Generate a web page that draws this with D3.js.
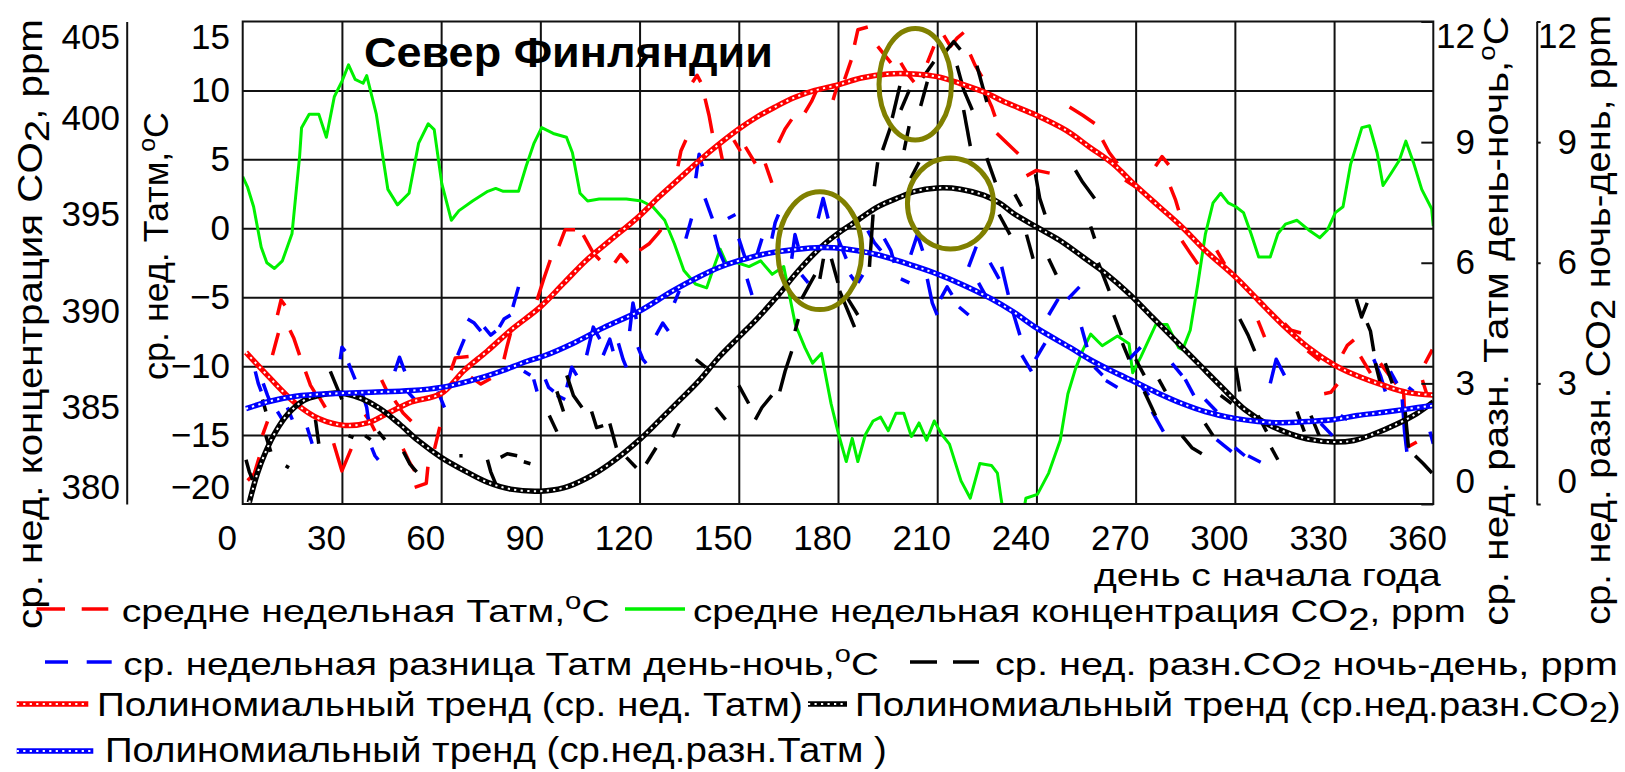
<!DOCTYPE html>
<html><head><meta charset="utf-8">
<script src="https://cdn.jsdelivr.net/npm/d3@7"></script>
<style>
html,body{margin:0;padding:0;background:#fff;}
svg{display:block;}
</style></head><body>
<svg id="chart" width="1625" height="772"></svg>
<script>
// ---- axis ticks ----
const DAY_TICKS  = [0,30,60,90,120,150,180,210,240,270,300,330,360];
const TEMP_TICKS = [-20,-15,-10,-5,0,5,10,15];
const CO2_TICKS  = [380,385,390,395,400,405];
const DIFF_TICKS = [0,3,6,9,12];

// ---- weekly mean CO2, ppm (day, value) ----
const co2Weekly = [[0,396.96],[1.5,396.4],[3.3,395.4],[5.6,393.3],[7.3,392.5],[9.6,392.2],[12,392.6],[14.9,394.0],[17.2,398.0],[17.8,399.5],[20.1,400.2],[23,400.2],[25.3,399.0],[27.7,401.1],[30,401.9],[32,402.75],[34,402.0],[36.4,401.8],[37.5,402.2],[40.4,400.2],[43.9,396.3],[46.8,395.5],[50.3,396.1],[53.2,398.7],[56.1,399.7],[57.9,399.4],[60.2,396.6],[63.1,394.7],[65.4,395.2],[69.5,395.7],[74.1,396.2],[76.5,396.35],[78.8,396.2],[83.4,396.2],[85.7,397.5],[88.1,398.7],[90.4,399.5],[93.9,399.2],[97.9,399.0],[99.7,398.2],[102,396.1],[104.3,395.7],[107.8,395.8],[116,395.8],[120.6,395.7],[124,395.4],[127.6,394.7],[130.5,393.5],[133.4,392.1],[136.9,391.4],[140.3,391.2],[142.1,392.1],[144.4,393.2],[146.2,392.5],[149.6,392.5],[153.1,392.3],[156.6,392.6],[160.1,391.9],[163.6,392.3],[167.1,389.3],[170,388.1],[172.3,387.3],[175,387.8],[177.9,385.2],[180.2,383.6],[182.5,382.2],[184.3,383.4],[186,382.2],[188.3,383.6],[190.6,384.3],[192.9,384.5],[195.2,383.8],[197.5,384.7],[199.9,384.7],[202.2,383.5],[204.5,384.2],[206.8,383.3],[209.1,384.3],[211.4,383.6],[213.7,383.1],[217.2,381.2],[220,380.3],[222.9,382.1],[226.4,382.0],[228.2,381.6],[229.3,380.3],[230.5,379.0],[235.5,379.0],[236.8,380.3],[240.3,380.5],[243.7,381.6],[247.2,383.3],[249.5,385.7],[251.8,387.0],[254.1,388.0],[256.4,388.8],[259.9,388.2],[264.5,388.7],[268,388.3],[269.1,386.8],[271.5,387.6],[276.1,389.3],[279.5,389.3],[283,388.1],[284.2,388.0],[286.5,389.0],[288.8,391.4],[291.1,394.0],[293.4,395.6],[295.7,396.1],[298,395.6],[300.3,395.4],[302.6,395.1],[304.9,394.0],[307.2,392.8],[310.7,392.8],[313,394.0],[315.3,394.5],[318.8,394.7],[322.3,394.2],[325.7,393.8],[328,394.2],[330.4,395.1],[332.7,395.4],[335,397.6],[338.4,399.5],[340.7,399.6],[343,398.2],[344.8,396.5],[347.1,397.1],[349.7,397.8],[351.7,398.8],[354,397.7],[356.5,396.3],[359.5,395.3],[360,394.4]];

// ---- weekly mean air temperature, °C: visible runs of the dashed trace ----
const tempWeekly = [
 [[1.5,-18.3],[3.5,-17.8],[5,-16.6]],[[6,-15],[7.5,-14]],[[9,-9.2],[10,-8.3],[10.8,-7.6]],
 [[10.5,-6.3],[11.6,-5.2],[12.8,-5.6]],[[14.3,-7.4],[15.5,-8],[17.2,-9.2]],[[19,-10.4],[20.5,-11.4],[21.8,-11.9]],
 [[23,-12.2],[25,-13]],[[27.5,-15.6],[30,-17.6],[32.8,-16]],[[37,-13.5],[38.5,-14],[40,-14.7]],
 [[42,-11],[44,-12]],[[46,-12.5],[48.5,-13.4],[51,-14]],[[48.5,-16],[50.5,-17],[52,-17.6]],
 [[52,-18.8],[55.5,-18.5],[56,-17.3]],[[58,-16],[59.6,-14.4]],[[63,-10.3],[64.3,-9.4],[68.3,-9.3]],
 [[69,-10.8],[72,-11.3],[75,-10.9]],[[79,-9.5],[80,-8.5],[81,-7.6]],[[89,-5.2],[91,-3.7],[93,-2.3]],
 [[95.6,-1.3],[97.5,-0.1],[100.5,-0.1]],[[103,-0.5],[106,-1.8],[108,-2.3]],[[112.5,-2.5],[114.3,-1.9],[116.5,-2.5]],
 [[120,-1.6],[123,-1.1],[125.5,-0.4],[126.5,-0.1]],[[131.6,4.5],[132.5,5.6],[134,6.4]],
 [[136,10.6],[137.4,11.1],[138.5,10.6]],[[139.8,9.4],[141,8.2],[142,6.9]],[[144,6.2],[145,5.0]],
 [[148.5,6.4],[150.5,5.6]],[[152,5.9],[153.5,5.3],[155,4.7]],[[158,4.7],[159,4],[160,3.3]],
 [[162,6.2],[164,7.2],[166,7.9]],[[170,8.4],[172,9.2],[173.5,10]],[[178.5,9.3],[180,10.5]],
 [[182,10.8],[184,12.2]],[[185,13.3],[186,14.4],[189,14.6]],[[192,13.2],[194,12.6],[196,12]],
 [[199,12],[201,11.2],[203,10.6]],[[207,12],[208,12.6],[209,13.2]],[[212,14],[214,13.2],[216,13.8],[218,14.2]],
 [[220,12.6],[221.5,11.8],[223.5,11]],[[225,9.6],[226.5,8.8],[227.5,8.1]],[[228,6.9],[231,6.2],[234.5,5.4]],
 [[237,3.8],[240,4.2],[244,4.0]],[[250,8.8],[254,8.2],[257.6,7.6]],[[260,6.4],[262,5.5],[264.5,4.7]],
 [[266.8,3.5],[270,3.0]],[[276,4.5],[278,5.2],[280,4.6]],[[280.5,3],[282,2.1],[283,1.3]],
 [[284,-0.9],[286.5,-1.8],[288.8,-2.6]],[[294.5,-1.6],[296.9,-2.6]],[[307,-6.7],[309,-7.9]],
 [[315,-6.9],[317,-7.4],[320,-7.6]],[[322,-8.9],[325.7,-9.6]],[[327,-12],[329,-11.9],[331,-11.3]],
 [[332.6,-9.1],[334,-8.5],[336,-8.1]],[[338,-9.3],[341,-10.5]],[[344,-9.8],[346.5,-10.6],[348.8,-11.3]],
 [[351,-11.7],[351.5,-14.5],[352,-15.9],[355,-15.5]],[[356.7,-11],[358,-12]],[[357.5,-9.8],[359.7,-8.8]]
];

// ---- weekly mean day-night air temperature difference, °C ----
const tempDiffWeekly = [
 [[3.8,3.3],[4.7,3.0],[5.6,2.8]],[[6.2,3.0],[7.5,2.7],[8.5,2.5]],[[10.5,2.3],[12,2.1]],[[13.5,2.4],[15,2.1]],
 [[19.5,1.9],[21,1.5]],[[29.5,3.6],[30,3.9],[31,3.8]],[[32,3.5],[33,3.3],[34,3.1]],[[36,2.8],[37.5,2.4],[38,2.1]],
 [[39,1.4],[40,1.2],[41,1.1]],[[46,3.3],[47.4,3.65],[49,3.3]],[[49.8,2.8],[52,2.6]],[[59,2.8],[60,2.6],[61,2.4]],
 [[65,3.7],[66,3.9],[67,4.1]],[[68,4.6],[70,4.5],[72,4.3]],[[73,4.4],[75,4.2],[76.5,4.3]],[[77.6,4.4],[79,4.6],[81,4.7]],
 [[81.7,4.9],[83.4,5.4]],[[85,3.3],[87,3.2]],[[88,3.1],[89,2.8]],[[91.5,3.1],[92.5,2.9],[94,2.8]],[[95,2.7],[97.5,2.6]],
 [[98,2.9],[99.5,3.4],[101,3.2]],[[104,3.7],[106,4.4],[108,4.1]],[[109,3.7],[111,4.1],[112,3.8]],
 [[113.6,4.0],[115,3.6],[116,3.4]],[[117,4.3],[118,5.0],[119,4.6]],[[119.5,3.9],[121,3.6],[122,3.5]],
 [[125,4.2],[127,4.5],[128.7,4.3]],[[130.5,5.0],[132,5.3]],[[134,6.6],[135.7,7.1]],[[137,8.1],[138,8.7],[139,8.4]],
 [[139.8,7.6],[142,7.1]],[[142.7,6.7],[144,6.3],[145.6,6.0]],[[146.7,7.1],[149,7.2]],[[150,6.6],[152,6.1]],
 [[152.5,5.6],[154,5.2]],[[155.5,6.2],[157,6.6]],[[160,6.6],[161,7.0],[162,7.2]],[[166,6.1],[167,6.7],[168,6.4]],
 [[169,5.7],[171,5.5]],[[174,7.1],[175.5,7.6],[177,7.1]],[[180,6.6],[182.5,6.1]],[[183.7,5.7],[185.4,5.5]],
 [[186,5.5],[187.5,5.7]],[[189,6.8],[191,6.5],[193,6.3]],[[194,6.6],[196,6.3],[197,6.0]],[[199,5.6],[201.6,5.5]],
 [[202,6.2],[204,6.7],[205.6,6.3]],[[207,5.6],[208.5,5.0],[210,4.7]],[[211,5.1],[213,5.4],[214.5,5.2]],
 [[216.6,4.9],[219.5,4.7]],[[219.5,5.9],[221.8,6.4]],[[222.5,5.5],[224.5,5.2]],[[226,6.0],[228.7,5.6]],
 [[229.5,5.9],[231.5,5.2]],[[232.8,4.8],[235,4.2]],[[235.6,3.7],[238.5,3.3]],[[239.7,3.6],[242.6,4.0]],
 [[243.7,4.7],[246.6,5.1]],[[249.5,5.1],[253,5.4]],[[253.6,4.4],[255.3,3.9]],[[257.6,3.4],[260,3.2]],
 [[261,3.07],[264.5,2.9]],[[268,3.6],[271.5,3.9]],[[272,2.9],[274,2.7]],[[275,2.3],[278.4,1.8]],
 [[281,3.5],[284,3.2]],[[285,3.1],[287.6,2.7]],[[291,2.6],[294.5,2.3]],[[294.5,1.6],[299,1.3]],
 [[300,1.4],[303,1.2]],[[304,1.2],[307.8,1.04]],[[310.7,3.0],[312.5,3.6],[315,3.2]],[[326,2.0],[329.5,1.7]],
 [[332,2.2],[334,2.1]],[[342,3.6],[344,3.2],[345.5,2.8]],[[347,3.3],[349,3.0]],[[350.6,2.6],[351.3,1.8],[352,1.3]],
 [[352.5,2.9],[354,2.8]],[[359,1.8],[360,1.5]]
];

// ---- weekly mean night-day CO2 difference, ppm ----
const co2DiffWeekly = [
 [[1,1.1],[2,0.8],[3,0.6]],[[6,2.6],[7,2.3]],[[7,1.7],[8.5,1.3]],[[13,0.95],[14,0.9]],[[22,2.1],[23,1.5]],
 [[26.5,3.3],[28,3.0],[30,2.6]],[[32,1.7],[33.5,1.65]],[[37,1.7],[38.7,1.6]],[[41,1.8],[43,1.6]],
 [[48.6,1.3],[50.5,1.0],[52.6,0.8]],[[65.5,1.2],[66.5,1.2]],[[74,1.1],[75,0.8],[76.5,0.5]],
 [[78,1.16],[80,1.25],[83,1.2]],[[85,1.05],[87,1.0]],[[92.7,2.2],[95,1.8]],[[95,2.8],[97,2.3]],
 [[98,3.2],[100,2.7],[102.6,2.4]],[[105.5,2.3],[107,1.9],[109,1.95]],[[111,2.0],[113,1.4]],[[116,1.16],[119,0.9]],
 [[122,1.0],[123.5,1.2],[125,1.4]],[[130,1.66],[132,2.0]],[[137,3.6],[140,3.4]],[[143,2.4],[146,2.1]],
 [[150,2.95],[153,2.5]],[[155,2.1],[157,2.4],[160,2.7]],[[162.4,2.8],[164,3.3],[166,3.8]],[[167,4.3],[168,4.6]],
 [[169,5.1],[171,5.4],[173,5.7]],[[174.5,5.6],[175.6,6.1]],[[178,6.1],[180,5.5]],[[180.5,5.3],[183,4.8],[185,4.4]],
 [[183,5.1],[186,4.7]],[[189.5,5.9],[190.6,7.2]],[[191,7.9],[192,8.5]],[[193.5,8.8],[196,9.4]],
 [[196.4,9.6],[198.7,10.4]],[[199,9.8],[201.6,10.3]],[[200,8.8],[201.5,9.4]],[[202,8.1],[204.5,8.5]],
 [[205,9.9],[207,10.5]],[[205.6,10.6],[209,11.0]],[[212,11.2],[215,11.5],[217,11.3]],[[216,10.9],[218,10.3],[220.6,9.8]],
 [[218,9.8],[220,8.9]],[[222,10.9],[225,10.0]],[[225,8.6],[227.6,8.0]],[[228.7,7.2],[232,6.7]],
 [[233.5,7.7],[235.5,7.4]],[[237,6.7],[239,6.1]],[[239.7,8.2],[241,7.6],[242.6,7.2]],[[243.7,6.1],[246,5.7]],
 [[251.8,8.3],[254,8.0],[257.6,7.6]],[[256.4,6.9],[257.6,6.6]],[[258.7,6.0],[262,5.3]],[[263.4,4.7],[265.7,4.2]],
 [[266,4.0],[268,3.6]],[[270,3.6],[272.6,3.2]],[[272.6,2.8],[276,2.2]],[[277,3.1],[279,2.8]],
 [[284,1.7],[287,1.4],[290,1.25]],[[291,2.0],[293.4,1.7]],[[295.7,2.7],[299,2.5]],[[300.3,3.4],[301.5,2.8]],
 [[301.5,4.6],[304,4.2],[306,3.8]],[[307,2.2],[309.6,1.8]],[[311,1.4],[313,1.1]],[[318.8,2.3],[321,1.8]],
 [[323,2.2],[325.5,1.7]],[[336.7,5.1],[338.3,4.65],[340,5.0]],[[340,4.5],[341,4.3],[342,3.8]],
 [[342.5,3.5],[344,3.0]],[[345.5,3.5],[347.6,3.0]],[[351.5,2.3],[352.5,1.4]],[[354.5,1.2],[357,1.0],[359.6,0.77]]
];

// ---- polynomial trends ----
const tempTrend = [[1,-9.0],[8,-10.8],[16,-12.7],[23,-13.8],[31,-14.3],[38,-14.1],[44,-13.4],[51,-12.6],[60,-12.0],[67,-10.3],[74,-8.9],[81,-7.4],[90,-5.7],[97,-4.0],[104,-2.3],[111,-0.9],[120,0.9],[126,2.3],[132,3.6],[138,4.9],[144,6.1],[150,7.2],[155,8.0],[161,8.8],[167,9.5],[173,10.0],[180,10.4],[187,10.9],[195,11.2],[203,11.2],[210,11.0],[217,10.5],[224,9.9],[231,9.1],[240,8.2],[249,7.1],[256,5.9],[263,4.7],[270,3.1],[277,1.6],[284,0.1],[291,-1.6],[300,-3.5],[307,-5.2],[314,-6.9],[322,-8.6],[330,-9.9],[337,-10.7],[345,-11.4],[352,-11.9],[360,-12.1]];
const tempDiffTrend = [[1,2.37],[8,2.55],[16,2.68],[28,2.75],[39,2.78],[51,2.82],[60,2.9],[69,3.07],[77,3.27],[86,3.55],[91,3.68],[100,4.0],[109,4.38],[120,4.8],[130,5.3],[138,5.65],[144,5.88],[150,6.05],[158,6.22],[167,6.33],[175,6.38],[182,6.35],[192,6.2],[203,5.92],[210,5.72],[217,5.48],[226,5.12],[233,4.78],[240,4.38],[250,3.9],[256,3.6],[263,3.3],[270,3.03],[277,2.75],[284,2.5],[291,2.3],[300,2.13],[307,2.05],[314,2.02],[322,2.05],[330,2.1],[337,2.2],[345,2.28],[352,2.36],[360,2.45]];
const co2DiffTrend = [[2,0.04],[4.4,0.75],[6.7,1.25],[10.2,1.83],[13.7,2.24],[18.4,2.57],[23,2.7],[28,2.76],[31,2.74],[36,2.62],[41.6,2.37],[47.4,1.99],[53,1.58],[60,1.16],[67,0.83],[74,0.54],[81,0.37],[90,0.32],[97,0.4],[104,0.64],[111,1.0],[120,1.6],[126,2.08],[132,2.57],[138,3.07],[144,3.65],[150,4.15],[156,4.65],[162,5.2],[168,5.8],[175,6.4],[180,6.73],[186,7.06],[192,7.39],[199,7.64],[203,7.77],[210,7.86],[217,7.83],[224,7.68],[229,7.48],[233,7.23],[240,6.89],[247,6.56],[254,6.15],[261,5.73],[268,5.23],[275,4.65],[282,4.07],[289,3.49],[296,2.91],[303,2.35],[310,1.98],[317,1.74],[323,1.6],[330,1.54],[336,1.58],[342,1.74],[349,1.99],[355,2.25],[360,2.54]];

// ---- highlighted areas: [day from, day to, °C low, °C high] ----
const highlightAreas = [[192.4,214.3,6.4,14.5],[201,227,-1.5,5.1],[161.8,187.2,-5.9,2.65]];

// ================= drawing =================
const FONT = '"Liberation Sans", Arial, Helvetica, sans-serif';
const svg = d3.select("#chart").attr("font-family", FONT);
svg.append("rect").attr("width",1625).attr("height",772).attr("fill","#fff");

const X0 = 242.7, X1 = 1433.3, Y0 = 21.5, Y1 = 504;
const x  = d3.scaleLinear().domain([0,360]).range([X0,X1]);
const yT = d3.scaleLinear().domain([-20,15]).range([Y1,Y0]);
const yC = d3.scaleLinear().domain([380,405]).range([Y1,Y0]);
const yD = d3.scaleLinear().domain([0,12]).range([Y1,Y0]);

svg.append("defs").append("clipPath").attr("id","plotClip")
  .append("rect").attr("x",X0).attr("y",Y0).attr("width",X1-X0).attr("height",Y1-Y0);

// grid
const grid = svg.append("g");
grid.append("g").attr("transform",`translate(0,${Y1})`)
  .call(d3.axisBottom(x).tickValues(DAY_TICKS.slice(1,-1)).tickSize(-(Y1-Y0)).tickFormat(""))
  .call(g=>g.select(".domain").remove())
  .call(g=>g.selectAll("line").attr("stroke","#111").attr("stroke-width",2));
grid.append("g").attr("transform",`translate(${X0},0)`)
  .call(d3.axisLeft(yT).tickValues(TEMP_TICKS.slice(1,-1)).tickSize(-(X1-X0)).tickFormat(""))
  .call(g=>g.select(".domain").remove())
  .call(g=>g.selectAll("line").attr("stroke","#111").attr("stroke-width",2));

// series
const plot = svg.append("g").attr("clip-path","url(#plotClip)");
const lineOf = ys => d3.line().x(d=>x(d[0])).y(d=>ys(d[1]));

plot.append("path").datum(co2Weekly).attr("d", lineOf(yC))
  .attr("fill","none").attr("stroke","#00f000").attr("stroke-width",3).attr("stroke-linejoin","round");

function dashedRuns(data, ys, color) {
  plot.append("g").selectAll("path").data(data).join("path")
    .attr("d", lineOf(ys)).attr("fill","none").attr("stroke",color)
    .attr("stroke-width",3.5).attr("stroke-linejoin","round");
}
dashedRuns(tempWeekly, yT, "#ff0000");
dashedRuns(tempDiffWeekly, yD, "#0000ff");
dashedRuns(co2DiffWeekly, yD, "#000000");

// trend lines drawn as a chain of small hollow squares
function chain(g, d, color) {
  g.append("path").attr("d", d).attr("fill","none").attr("stroke",color).attr("stroke-width",5.5);
  g.append("path").attr("d", d).attr("fill","none").attr("stroke","#fff").attr("stroke-width",2)
    .attr("stroke-dasharray","2.2,4.3");
}
function trend(data, ys, color) {
  const gen = d3.line().curve(d3.curveCatmullRom).x(d=>x(d[0])).y(d=>ys(d[1]));
  chain(plot.append("g"), gen(data), color);
}
trend(tempTrend, yT, "#ff0000");
trend(co2DiffTrend, yD, "#000000");
trend(tempDiffTrend, yD, "#0000ff");

// frame
svg.append("rect").attr("x",X0).attr("y",Y0).attr("width",X1-X0).attr("height",Y1-Y0)
  .attr("fill","none").attr("stroke","#111").attr("stroke-width",2);

// highlight ellipses
svg.append("g").selectAll("ellipse").data(highlightAreas).join("ellipse")
  .attr("cx", d=>(x(d[0])+x(d[1]))/2).attr("rx", d=>(x(d[1])-x(d[0]))/2)
  .attr("cy", d=>(yT(d[2])+yT(d[3]))/2).attr("ry", d=>(yT(d[2])-yT(d[3]))/2)
  .attr("fill","none").attr("stroke","#808000").attr("stroke-width",5);

// ---- axes ----
const TICK_FS = 35;
function styleAxis(g) {
  g.attr("font-size",TICK_FS).attr("font-family",FONT);
  g.selectAll("text").attr("fill","#000");
  g.selectAll("line").attr("stroke","#111").attr("stroke-width",2);
  g.select(".domain").attr("stroke","#111").attr("stroke-width",2);
}
// x axis labels
svg.append("g").attr("transform",`translate(0,${Y1})`)
  .call(d3.axisBottom(x).tickValues(DAY_TICKS).tickSize(0).tickPadding(21))
  .call(styleAxis).call(g=>g.select(".domain").remove())
  .call(g=>g.selectAll("text").attr("dx",-16));
// temperature axis
svg.append("g").attr("transform",`translate(${X0},0)`)
  .call(d3.axisLeft(yT).tickValues(TEMP_TICKS).tickSize(0).tickPadding(12.7))
  .call(styleAxis).call(g=>g.select(".domain").remove())
  .call(g=>g.selectAll("text").attr("y", d=> d===15 ? 15.5 : d===-20 ? -17 : 0));
// CO2 axis
svg.append("g").attr("transform",`translate(126.7,0)`)
  .call(d3.axisLeft(yC).tickValues(CO2_TICKS).tickSize(0).tickSizeOuter(0).tickPadding(6.7))
  .call(styleAxis)
  .call(g=>g.selectAll("text").attr("y", d=> d===405 ? 16 : d===380 ? -17 : 0));
// right axis: day-night temperature difference
svg.append("g").attr("transform",`translate(${X1},0)`)
  .call(d3.axisLeft(yD).tickValues(DIFF_TICKS).tickSize(12).tickSizeOuter(0))
  .call(styleAxis).call(g=>g.select(".domain").remove())
  .call(g=>g.selectAll("text").attr("x",41.7).attr("text-anchor","end")
     .attr("y", d=> d===12 ? 14.5 : d===0 ? -23 : 0));
// right axis: night-day CO2 difference
svg.append("g").attr("transform",`translate(1536.7,0)`)
  .call(d3.axisRight(yD).tickValues(DIFF_TICKS).tickSize(4).tickSizeOuter(0))
  .call(styleAxis)
  .call(g=>g.selectAll("text").attr("x",40.3).attr("text-anchor","end")
     .attr("y", d=> d===12 ? 14.5 : d===0 ? -23 : 0));

// ---- text helpers ----
function makeText(parts, size, weight) {
  const t = svg.append("text").attr("font-size",size).attr("fill","#000");
  if (weight) t.attr("font-weight",weight);
  parts.forEach(p => {
    const s = t.append("tspan").text(p.s);
    if (p.dy) s.attr("dy", p.dy);
    if (p.fs) s.attr("font-size", p.fs);
  });
  return t;
}
// horizontal text spanning [x0, x1] on the given baseline
function spanText(parts, size, x0, x1, base, weight) {
  const t = makeText(parts, size, weight);
  const k = (x1 - x0) / t.node().getBBox().width;
  t.attr("transform", `translate(${x0},${base}) scale(${k},1)`);
  return t;
}
// vertical text reading upward, centred at cy, baseline at bx
function upText(parts, size, bx, cy, len) {
  const t = makeText(parts, size).attr("text-anchor","middle");
  const k = len / t.node().getBBox().width;
  t.attr("transform", `translate(${bx},${cy}) rotate(-90) scale(${k},1)`);
  return t;
}
const deg = [{s:"o", dy:-13, fs:24},{s:"C", dy:13}];

// title
spanText([{s:"Север Финляндии"}], 43, 364, 773, 67, "bold");
// axis titles
upText([{s:"ср. нед. концентрация CO"},{s:"2", dy:7},{s:", ppm", dy:-7}], 36, 42, 324, 610);
upText([{s:"ср. нед. Татм,"}, ...deg], 35, 168, 246, 268);
upText([{s:"ср. нед. разн. Татм день-ночь,"}, ...deg], 35, 1508, 321, 610);
upText([{s:"ср. нед. разн. CO"},{s:"2", dy:5},{s:" ночь-день, ppm", dy:-5}], 35, 1610, 320, 610);
spanText([{s:"день с начала года"}], 32, 1094, 1441, 586);

// ---- legend ----
const leg = svg.append("g");
function dashSample(y, xs, color) {
  xs.forEach(([a,b]) => leg.append("line").attr("x1",a).attr("x2",b).attr("y1",y).attr("y2",y)
    .attr("stroke",color).attr("stroke-width",3.5));
}
function chainSample(y, a, b, color) {
  chain(leg, `M${a},${y}H${b}`, color);
}
// row 1
dashSample(609, [[36.7,65],[81.7,108.3]], "#ff0000");
spanText([{s:"средне недельная Татм,"}, ...deg], 32, 121.7, 610, 622);
leg.append("line").attr("x1",625).attr("x2",685).attr("y1",609).attr("y2",609)
  .attr("stroke","#00f000").attr("stroke-width",3.5);
spanText([{s:"средне недельная концентрация CO"},{s:"2",dy:8},{s:", ppm",dy:-8}], 32, 693, 1466, 622);
// row 2
dashSample(662, [[45,68],[86.7,111.7]], "#0000ff");
spanText([{s:"ср. недельная разница Татм день-ночь,"}, ...deg], 32, 123.3, 879, 675);
dashSample(662, [[910,937],[953,979]], "#000000");
spanText([{s:"ср. нед. разн.CO"},{s:"2",dy:4,fs:28},{s:" ночь-день, ppm",dy:-4}], 32, 995, 1618, 675);
// row 3
chainSample(704, 16.7, 88.3, "#ff0000");
spanText([{s:"Полиномиальный  тренд (ср. нед. Татм)"}], 34, 97, 803, 716);
chainSample(704, 808, 847, "#000000");
spanText([{s:"Полиномиальный тренд (ср.нед.разн.CO"},{s:"2",dy:6,fs:30},{s:")",dy:-6}], 34, 855, 1621, 716);
// row 4
chainSample(751, 16.7, 93.3, "#0000ff");
spanText([{s:"Полиномиальный тренд (ср.нед.разн.Татм )"}], 35, 105, 887, 762);
</script></body></html>
